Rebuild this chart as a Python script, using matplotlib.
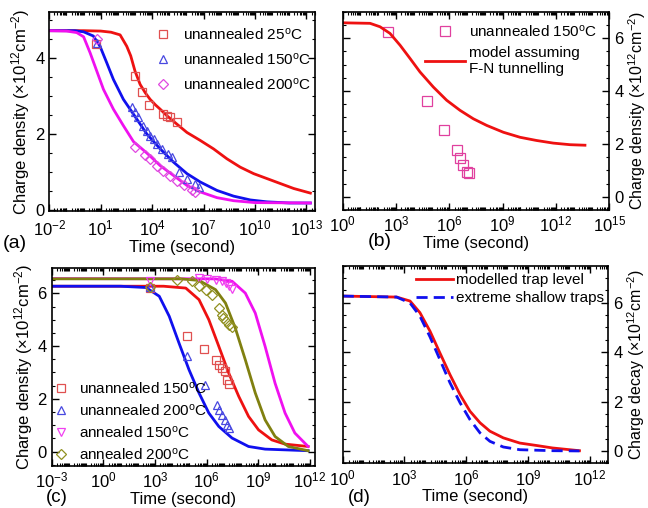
import numpy as np
import matplotlib
matplotlib.use("Agg")
import matplotlib.pyplot as plt
from matplotlib.ticker import FixedLocator, LogLocator, NullFormatter, LogFormatterMathtext, AutoMinorLocator

plt.rcParams['font.family'] = ['Liberation Sans', 'DejaVu Sans']
plt.rcParams['mathtext.default'] = 'regular'
plt.rcParams['font.size'] = 11

# ---------------- Panel (a) ----------------
a_red_logt = [-2, 0, 1.0, 1.6, 2.13, 2.52, 2.75, 3.0, 3.3, 3.6, 3.88, 4.2, 4.47, 4.86, 5.44, 6.03, 6.81, 7.58, 8.36, 9.14, 9.92, 10.70, 11.48, 12.26, 13.23]
a_red_val = [4.71, 4.71, 4.70, 4.67, 4.60, 4.30, 4.05, 3.65, 3.30, 3.08, 2.91, 2.76, 2.65, 2.48, 2.26, 2.04, 1.83, 1.61, 1.35, 1.13, 0.96, 0.83, 0.70, 0.57, 0.45]
a_blue_logt = [-2, -0.5, 0.0, 0.57, 0.96, 1.35, 1.74, 2.32, 2.91, 3.69, 4.47, 5.25, 6.03, 6.81, 7.78, 8.75, 9.73, 10.7, 12.0, 13.23]
a_blue_val = [4.71, 4.71, 4.68, 4.57, 4.30, 3.87, 3.43, 2.91, 2.52, 2.00, 1.61, 1.26, 0.96, 0.74, 0.52, 0.37, 0.27, 0.22, 0.19, 0.19]
a_mag_logt = [-2, -1, -0.4, 0.0, 0.38, 0.77, 1.16, 1.74, 2.32, 2.91, 3.69, 4.47, 5.25, 6.03, 6.81, 7.78, 8.75, 10.0, 13.23]
a_mag_val = [4.71, 4.70, 4.66, 4.55, 4.13, 3.65, 3.17, 2.65, 2.22, 1.80, 1.50, 1.17, 0.91, 0.65, 0.48, 0.33, 0.25, 0.20, 0.19]

a_sq_logt = [0.72, 3.01, 3.40, 3.84, 4.66, 4.86, 5.06, 5.44]
a_sq_val = [4.35, 3.52, 3.09, 2.76, 2.52, 2.48, 2.44, 2.31]
a_tri_logt = [0.77, 2.81, 3.01, 3.20, 3.49, 3.69, 3.88, 4.08, 4.27, 4.57, 4.95, 5.15, 5.54, 6.03, 6.51, 6.71]
a_tri_val = [4.39, 2.70, 2.57, 2.44, 2.22, 2.09, 1.96, 1.87, 1.74, 1.61, 1.48, 1.39, 1.00, 0.83, 0.70, 0.61]
a_dia_logt = [0.77, 3.01, 3.59, 3.88, 4.27, 4.66, 5.06, 5.44, 5.83, 6.32, 6.51]
a_dia_val = [4.48, 1.65, 1.44, 1.35, 1.17, 1.04, 0.91, 0.78, 0.65, 0.52, 0.48]

# ---------------- Panel (b) ----------------
b_red_logt = [0, 1.54, 2.1, 2.66, 3.23, 3.79, 4.35, 5.1, 5.85, 6.6, 7.35, 8.1, 9.04, 9.98, 10.9, 11.85, 12.79, 13.63]
b_red_val = [6.58, 6.56, 6.43, 6.18, 5.73, 5.23, 4.72, 4.15, 3.65, 3.27, 2.95, 2.70, 2.44, 2.25, 2.13, 2.03, 1.97, 1.95]
b_sq_logt = [2.57, 4.77, 5.70, 6.42, 6.60, 6.75, 6.98, 7.13]
b_sq_val = [6.24, 3.62, 2.53, 1.77, 1.46, 1.20, 0.95, 0.89]

# ---------------- Panel (c) ----------------
c_blue_logt = [-3, 1.0, 2.48, 3.25, 3.83, 4.40, 4.98, 5.56, 6.13, 6.71, 7.48, 8.44, 9.40, 11.9]
c_blue_val = [6.27, 6.27, 6.22, 5.89, 5.13, 4.11, 3.10, 2.22, 1.46, 0.95, 0.51, 0.19, 0.09, 0.03]
c_red_logt = [-3, 3.5, 4.79, 5.56, 6.13, 6.71, 7.29, 7.87, 8.44, 9.02, 9.79, 10.56, 11.9]
c_red_val = [6.27, 6.27, 6.20, 5.76, 5.00, 3.99, 2.97, 2.09, 1.33, 0.82, 0.44, 0.28, 0.19]
c_olive_logt = [-3, 4.5, 5.56, 6.52, 7.10, 7.67, 8.25, 8.83, 9.40, 9.98, 10.75, 11.9]
c_olive_val = [6.55, 6.55, 6.49, 6.14, 5.63, 4.68, 3.48, 2.22, 1.20, 0.57, 0.19, 0.03]
c_mag_logt = [-3, 6.5, 7.48, 8.25, 8.83, 9.40, 9.98, 10.56, 11.13, 11.9]
c_mag_val = [6.56, 6.55, 6.46, 6.01, 5.25, 3.99, 2.59, 1.46, 0.70, 0.19]

c_sq_logt = [2.71, 4.88, 5.85, 6.56, 6.71, 6.87, 7.06, 7.19, 7.33]
c_sq_val = [6.20, 4.39, 3.90, 3.48, 3.29, 3.17, 3.04, 2.70, 2.57]
c_tri_logt = [2.71, 4.88, 5.90, 6.61, 6.75, 6.90, 7.06, 7.19, 7.33]
c_tri_val = [6.24, 3.63, 2.53, 1.77, 1.56, 1.39, 1.20, 1.01, 0.89]
c_dtri_logt = [2.71, 5.56, 6.05, 6.52, 6.87, 7.10, 7.29, 7.48]
c_dtri_val = [6.46, 6.58, 6.55, 6.50, 6.46, 6.39, 6.29, 6.17]
c_dia_logt = [2.71, 4.31, 5.14, 5.56, 5.94, 6.33, 6.71, 6.87, 6.94, 7.10, 7.29, 7.48]
c_dia_val = [6.24, 6.52, 6.46, 6.27, 6.14, 5.95, 5.44, 5.19, 5.07, 4.94, 4.81, 4.72]

# ---------------- Panel (d) ----------------
d_red_logt = [0, 2.62, 3.27, 3.75, 4.24, 4.72, 5.21, 5.70, 6.18, 6.67, 7.15, 7.80, 8.60, 9.42, 10.2, 11.5]
d_red_val = [6.27, 6.23, 6.07, 5.60, 4.85, 3.97, 3.09, 2.28, 1.61, 1.14, 0.80, 0.53, 0.32, 0.22, 0.12, 0.01]
d_blue_logt = [0, 2.62, 3.27, 3.75, 4.24, 4.72, 5.21, 5.70, 6.18, 6.67, 7.15, 7.80, 8.60, 10.2, 11.5]
d_blue_val = [6.27, 6.23, 5.99, 5.46, 4.62, 3.70, 2.76, 1.95, 1.27, 0.73, 0.39, 0.16, 0.05, 0.01, 0.0]

RED = '#EE1111'
BLUE = '#1010EE'
MAG = '#F010F0'
OLIVE = '#808010'
LW = 2.0
LEGFS = 11


def t(logs):
    return 10.0 ** np.asarray(logs)


fig = plt.figure(figsize=(6.48, 5.08), dpi=100)
W, H = 648.0, 508.0


def mkax(l, r, top, bot):
    return fig.add_axes([l / W, 1 - bot / H, (r - l) / W, (bot - top) / H])


def style(ax, xlo, xhi, majors, ylo, yhi, yt, right=False, xpad=3.5):
    ax.set_xscale('log')
    ax.set_xlim(10.0 ** xlo, 10.0 ** xhi)
    ax.set_ylim(ylo, yhi)
    ax.xaxis.set_major_locator(FixedLocator([10.0 ** k for k in majors]))
    ax.xaxis.set_major_formatter(LogFormatterMathtext())
    ax.xaxis.set_minor_locator(LogLocator(base=10, subs=np.arange(1, 10), numticks=200))
    ax.xaxis.set_minor_formatter(NullFormatter())
    ax.set_yticks(yt)
    ax.yaxis.set_minor_locator(AutoMinorLocator(4))
    ax.tick_params(which='both', direction='in', top=True, right=True, left=True, bottom=True,
                   labelsize=12)
    ax.tick_params(which='major', length=5, width=1)
    ax.tick_params(which='minor', length=2.5, width=0.8)
    ax.tick_params(axis='x', pad=xpad)
    if right:
        ax.tick_params(axis='y', labelleft=False, labelright=True)
        ax.yaxis.set_label_position('right')
    for s in ax.spines.values():
        s.set_linewidth(1.2)
    ax.set_xlabel('Time (second)', fontsize=12, labelpad=1)


ylab = 'Charge density (\u00d710$^{12}$cm$^{-2}$)'

# (a)
axa = mkax(49.3, 315, 12, 211)
axa.plot(t(a_red_logt), a_red_val, color=RED, lw=LW)
axa.plot(t(a_blue_logt), a_blue_val, color=BLUE, lw=LW)
axa.plot(t(a_mag_logt), a_mag_val, color=MAG, lw=LW)
ms = 6
axa.plot(t(a_sq_logt), a_sq_val, 's', mfc='none', mec='#E05050', ms=ms, mew=0.9, label='unannealed 25$^{o}$C')
axa.plot(t(a_tri_logt), a_tri_val, '^', mfc='none', mec='#4848E0', ms=ms, mew=0.9, label='unannealed 150$^{o}$C')
axa.plot(t(a_dia_logt), a_dia_val, 'D', mfc='none', mec='#E048E0', ms=ms - 0.8, mew=0.9, label='unannealed 200$^{o}$C')
style(axa, -2, 13.5, range(-2, 14, 3), -0.02, 5.2, [0, 2, 4], xpad=5.5)
axa.set_ylabel(ylab, fontsize=12, labelpad=2)
axa.legend(loc='upper right', frameon=False, fontsize=LEGFS, handletextpad=0.7, labelspacing=0.6,
           borderaxespad=0.2, bbox_to_anchor=(1.02, 0.975), handlelength=1.2)

# (b)
axb = mkax(342.7, 609.3, 11.7, 210)
axb.plot(t(b_sq_logt), b_sq_val, 's', mfc='none', mec='#E0409F', ms=ms + 0.5, mew=0.9, label='unannealed 150$^{o}$C')
axb.plot(t(b_red_logt), b_red_val, color=RED, lw=LW, label='model assuming\nF-N tunnelling')
style(axb, 0, 15, range(0, 16, 3), -0.5, 7.0, [0, 2, 4, 6], right=True)
axb.set_ylabel(ylab, fontsize=11.5, labelpad=2)
axb.legend(loc='upper right', frameon=False, fontsize=LEGFS, handletextpad=0.3, labelspacing=0.4,
           borderaxespad=0.2, bbox_to_anchor=(0.99, 0.985), handlelength=2.6)

# (c)
axc = mkax(51.7, 315, 268.3, 466)
axc.plot(t(c_red_logt), c_red_val, color=RED, lw=LW)
axc.plot(t(c_blue_logt), c_blue_val, color=BLUE, lw=LW)
axc.plot(t(c_mag_logt), c_mag_val, color=MAG, lw=LW)
axc.plot(t(c_olive_logt), c_olive_val, color=OLIVE, lw=LW)
axc.plot(t(c_sq_logt), c_sq_val, 's', mfc='none', mec='#E05050', ms=ms, mew=0.9, label='unannealed 150$^{o}$C')
axc.plot(t(c_tri_logt), c_tri_val, '^', mfc='none', mec='#4848E0', ms=ms, mew=0.9, label='unannealed 200$^{o}$C')
axc.plot(t(c_dtri_logt), c_dtri_val, 'v', mfc='none', mec='#F040F0', ms=ms, mew=0.9, label='annealed 150$^{o}$C')
axc.plot(t(c_dia_logt), c_dia_val, 'D', mfc='none', mec='#909020', ms=ms - 0.8, mew=0.9, label='annealed 200$^{o}$C')
style(axc, -3, 12.3, range(-3, 13, 3), -0.55, 6.95, [0, 2, 4, 6])
axc.set_ylabel(ylab, fontsize=12, labelpad=2)
axc.legend(loc='lower left', frameon=False, fontsize=LEGFS, handletextpad=0.6, labelspacing=0.4,
           borderaxespad=0.2, bbox_to_anchor=(-0.035, -0.03), handlelength=1.2)

# (d)
axd = mkax(342.7, 608.3, 265.7, 463.3)
axd.plot(t(d_red_logt), d_red_val, color=RED, lw=LW, label='modelled trap level')
axd.plot(t(d_blue_logt), d_blue_val, color=BLUE, lw=LW, ls=(0, (4, 2.2)), label='extreme shallow traps')
style(axd, 0, 12.9, range(0, 13, 3), -0.5, 7.5, [0, 2, 4, 6], right=True)
axd.set_ylabel('Charge decay (\u00d710$^{12}$cm$^{-2}$)', fontsize=11.5, labelpad=2)
axd.legend(loc='upper right', frameon=False, fontsize=LEGFS, handletextpad=0.2, labelspacing=0.25,
           borderaxespad=0.1, bbox_to_anchor=(1.012, 1.0), handlelength=2.4)

# panel labels
fig.text(3 / W, 1 - 243 / H, '(a)', fontsize=14, va='center', ha='left')
fig.text(368 / W, 1 - 242 / H, '(b)', fontsize=14, va='center', ha='left')
fig.text(46 / W, 1 - 498 / H, '(c)', fontsize=13.5, va='center', ha='left')
fig.text(348 / W, 1 - 497 / H, '(d)', fontsize=13.5, va='center', ha='left')

fig.savefig('out.png', dpi=100)
